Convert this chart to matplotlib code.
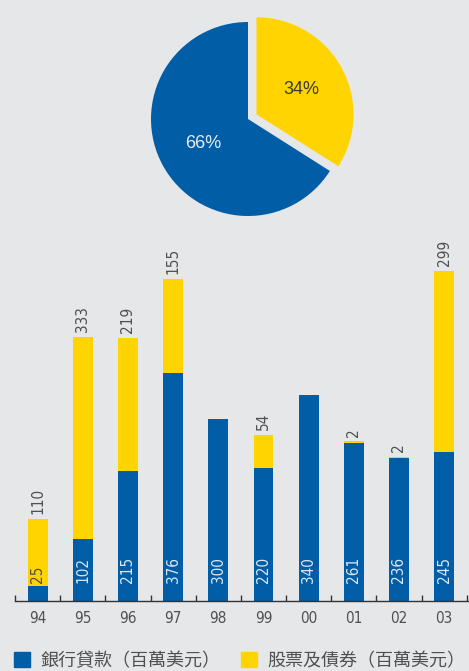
import numpy as np
import matplotlib.pyplot as plt
from matplotlib.patches import Patch

# data
years = ['94', '95', '96', '97', '98', '99', '00', '01', '02', '03']
bank_loans = [25, 102, 215, 376, 300, 220, 340, 261, 236, 245]
equity_bonds = [110, 333, 219, 155, 0, 54, 0, 2, 2, 299]
pie_labels = ['股票及債券', '銀行貸款']
pie_share = [34, 66]
legend_labels = ['銀行貸款（百萬美元）', '股票及債券（百萬美元）']

blue = '#005da6'
yellow = '#ffd400'
bg = '#e6e7e9'
grey = '#505050'
narrow = dict(family='DejaVu Sans', stretch='condensed')

W, H = 469, 671
fig = plt.figure(figsize=(W / 100, H / 100), dpi=100, facecolor=bg)

# pie
cx, cy, r = 248, 119, 97
half = 124
axp = fig.add_axes([(cx - half) / W, 1 - (cy + half) / H, 2 * half / W, 2 * half / H])
axp.set_facecolor(bg)
wedges, texts, autotexts = axp.pie(
    pie_share, colors=[yellow, blue], startangle=90, counterclock=False,
    explode=[0.1, 0], autopct='%d%%', pctdistance=0.53,
    textprops={'family': 'Liberation Sans', 'fontsize': 13})
autotexts[0].set_color('#3a3a3a')
autotexts[1].set_color('#e8eef6')
lim = half / r
axp.set_xlim(-lim, lim)
axp.set_ylim(-lim, lim)
axp.axis('off')

# stacked bars
ax = fig.add_axes([15 / W, 1 - 601 / H, (W - 15) / W, 361 / H])
ax.set_facecolor(bg)
x = np.arange(len(years))
ax.bar(x, bank_loans, width=0.44, color=blue)
ax.bar(x, equity_bonds, width=0.44, bottom=bank_loans, color=yellow)
ax.set_xlim(-0.5, 9.55)
ax.set_ylim(0, 595)

for i in range(len(years)):
    c = grey if bank_loans[i] < 60 else '#dfe7f1'
    ax.text(x[i], 30, str(bank_loans[i]), rotation=90, ha='center', va='bottom',
            color=c, fontsize=11, **narrow)
    if equity_bonds[i] > 0:
        ax.text(x[i], bank_loans[i] + equity_bonds[i] + 8, str(equity_bonds[i]),
                rotation=90, ha='center', va='bottom', color=grey, fontsize=11,
                **narrow)

for s in ['top', 'right', 'left']:
    ax.spines[s].set_visible(False)
ax.spines['bottom'].set_color('#333333')
ax.spines['bottom'].set_linewidth(1.0)
ax.set_yticks([])
ax.set_xticks(x)
ax.set_xticklabels(years, fontsize=11, color=grey, **narrow)
ax.set_xticks(np.arange(-0.5, 10, 1), minor=True)
ax.tick_params(axis='x', which='major', length=0, pad=7)
ax.tick_params(axis='x', which='minor', direction='in', length=4, width=1, color='#333333')

# legend
handles = [Patch(color=blue), Patch(color=yellow)]
fig.legend(handles, legend_labels, loc='center left',
           bbox_to_anchor=(14 / W, 1 - 661 / H), ncol=2, frameon=False,
           borderpad=0, borderaxespad=0, handlelength=0.885, handleheight=0.885,
           handletextpad=0.6, columnspacing=1.1,
           prop={'family': ['Noto Sans CJK TC', 'DejaVu Sans'], 'size': 13})
for t in fig.legends[0].get_texts():
    t.set_color(grey)

plt.savefig('out.png', dpi=100, facecolor=bg)
